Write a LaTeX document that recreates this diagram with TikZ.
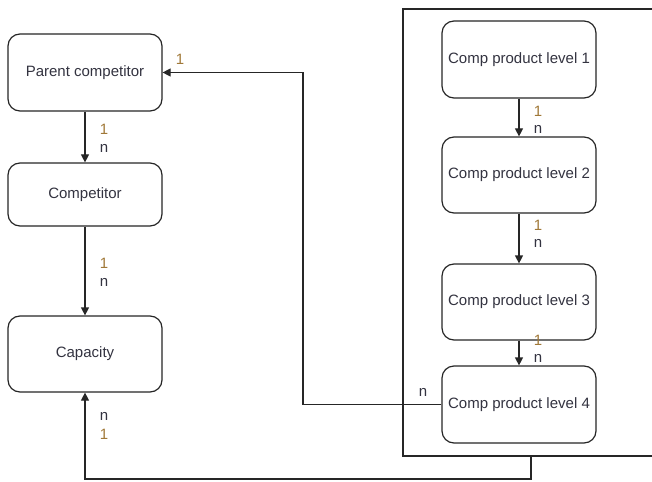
\documentclass[tikz,border=0pt]{standalone}
\usepackage{fontspec}
\setmainfont{Liberation Sans}
\usetikzlibrary{arrows.meta}
\definecolor{linec}{HTML}{262626}
\definecolor{txtc}{HTML}{333340}
\definecolor{onec}{HTML}{A07838}
\tikzset{
  box/.style={draw=linec, line width=1.2pt, rounded corners=12pt, fill=white,
    minimum width=154pt, inner sep=2pt, text=txtc, font=\fontsize{15}{18}\selectfont},
  conn/.style={draw=linec, line width=1.2pt, -{Triangle[length=8pt,width=8pt]}},
  plain/.style={draw=linec, line width=1.2pt},
  lbl/.style={font=\fontsize{15}{18}\selectfont, inner sep=0pt},
  lone/.style={lbl, text=onec},
  ln/.style={lbl, text=txtc}
}
\begin{document}
\begin{tikzpicture}[x=1pt,y=-1pt]
\useasboundingbox (0,0) rectangle (652,481);
% frame (open to the right edge)
\draw[plain] (652,9) -- (403,9) -- (403,456) -- (652,456);
\coordinate (fb) at (531,456);
\coordinate (fbl) at (531,479);
\coordinate (capb) at (85,479);
\coordinate (turnA) at (303,404.5);
\coordinate (turnB) at (303,72.5);
% left nodes
\node[box, minimum height=77pt] (pc) at (85,72.5) {Parent competitor};
\node[box, minimum height=63pt] (comp) at (85,194.5) {Competitor};
\node[box, minimum height=76pt] (cap) at (85,354) {Capacity};
% right nodes
\node[box, minimum height=77pt] (l1) at (519,59.5) {Comp product level 1};
\node[box, minimum height=76pt] (l2) at (519,175) {Comp product level 2};
\node[box, minimum height=76pt] (l3) at (519,302) {Comp product level 3};
\node[box, minimum height=77pt] (l4) at (519,404.5) {Comp product level 4};
% connectors
\draw[conn] (pc) -- (comp);
\draw[conn] (comp) -- (cap);
\draw[conn] (l1) -- (l2);
\draw[conn] (l2) -- (l3);
\draw[conn] (l3) -- (l4);
\draw[conn] (l4.west) -- (turnA) -- (turnB) -- (pc.east);
\draw[conn] (fb) -- (fbl) -- (capb) -- (cap.south);
% labels
\node[lone] (a1) at (104,129) {1};
\node[ln]   (a2) at (104,148) {n};
\node[lone] (b1) at (104,263) {1};
\node[ln]   (b2) at (104,282) {n};
\node[ln]   (c1) at (104,416) {n};
\node[lone] (c2) at (104,434) {1};
\node[lone] (d1) at (180,59) {1};
\node[ln]   (d2) at (423,392) {n};
\node[lone] (e1) at (538,111) {1};
\node[ln]   (e2) at (538,129) {n};
\node[lone] (f1) at (538,225) {1};
\node[ln]   (f2) at (538,243) {n};
\node[lone] (g1) at (538,340) {1};
\node[ln]   (g2) at (538,358) {n};
\end{tikzpicture}
\end{document}
